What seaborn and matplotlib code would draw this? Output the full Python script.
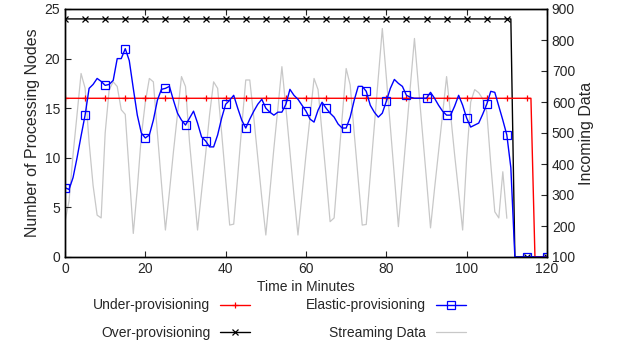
import matplotlib
matplotlib.use("Agg")
import matplotlib.pyplot as plt
import numpy as np
import pandas as pd
import seaborn as sns

# minutes 0..120, one sample per minute
minutes = list(range(121))

under_nodes = [16] * 117 + [0] * 4
over_nodes = [24] * 112 + [0] * 9

elastic_nodes = [
    7.0, 6.8, 8.0, 10.0, 12.2, 14.3, 17.0, 17.4, 18.0, 17.7,
    17.3, 17.4, 17.8, 20.0, 20.0, 21.0, 19.8, 17.0, 14.3, 12.5,
    12.0, 12.3, 13.8, 15.8, 16.9, 17.0, 17.2, 15.8, 14.5, 13.8,
    13.3, 14.0, 14.7, 13.5, 12.1, 11.7, 11.1, 11.1, 12.3, 14.0,
    15.4, 15.8, 16.3, 15.0, 13.8, 13.0, 13.9, 14.7, 15.4, 15.9,
    15.0, 14.6, 14.3, 14.6, 14.6, 15.4, 16.9, 16.3, 15.9, 15.3,
    14.7, 13.9, 13.6, 14.8, 15.6, 15.0, 14.5, 14.1, 13.4, 13.0,
    13.0, 14.1, 15.8, 17.2, 17.2, 16.7, 15.3, 14.6, 14.1, 14.5,
    15.7, 17.0, 17.9, 17.5, 17.2, 16.3, 16.1, 16.0, 16.0, 16.0,
    16.0, 16.6, 16.0, 15.3, 14.7, 14.3, 14.3, 15.2, 16.3, 15.3,
    14.0, 13.1, 13.3, 13.5, 14.4, 15.4, 16.7, 16.6, 15.2, 13.8,
    12.3, 9.0, 0, 0, 0, 0, 0, 0, 0, 0, 0,
]

# incoming data, minutes 0..110
stream_minutes = list(range(111))
stream_data = [
    214, 280, 430, 560, 692, 645, 470, 330, 235, 226,
    500, 640, 665, 650, 575, 560, 370, 176, 320, 490,
    600, 676, 665, 500, 340, 187, 310, 440, 560, 682,
    650, 470, 330, 187, 310, 430, 560, 665, 644, 500,
    350, 203, 206, 360, 520, 671, 671, 550, 420, 290,
    171, 310, 450, 580, 714, 580, 440, 300, 171, 300,
    430, 550, 676, 640, 500, 360, 214, 226, 390, 550,
    708, 655, 500, 350, 203, 205, 363, 521, 679, 837,
    680, 520, 360, 198, 350, 500, 655, 805, 650, 500,
    350, 194, 320, 440, 560, 682, 560, 430, 310, 187,
    420, 600, 640, 630, 610, 569, 400, 246, 226, 375,
    225,
]

sns.set_style("ticks")
plt.rcParams["font.family"] = ["Liberation Sans", "DejaVu Sans"]
plt.rcParams["font.size"] = 10

nodes = pd.DataFrame({
    "minute": minutes,
    "under": under_nodes,
    "over": over_nodes,
    "elastic": elastic_nodes,
})
stream = pd.DataFrame({"minute": stream_minutes, "data": stream_data})

fig = plt.figure(figsize=(6.2, 3.47), dpi=100)
ax = fig.add_axes([65 / 620, 1 - 257 / 347, 482 / 620, 248 / 347])
ax2 = ax.twinx()

sns.lineplot(data=stream, x="minute", y="data", ax=ax2, color="#c8c8c8",
             lw=0.9, label="Streaming Data", legend=False)

# seaborn paints marker edges white by default, so set them explicitly
sns.lineplot(data=nodes, x="minute", y="over", ax=ax, color="black", lw=1,
             marker="x", markersize=4.2, markeredgecolor="black",
             markeredgewidth=0.9, markevery=5,
             label="Over-provisioning", legend=False)
sns.lineplot(data=nodes, x="minute", y="under", ax=ax, color="#ff0000", lw=1,
             marker="+", markersize=5, markeredgecolor="#ff0000",
             markeredgewidth=0.9, markevery=5,
             label="Under-provisioning", legend=False)
sns.lineplot(data=nodes, x="minute", y="elastic", ax=ax, color="#0000ff", lw=1,
             marker="s", markersize=5.2, markerfacecolor="none",
             markeredgecolor="#0000ff", markeredgewidth=0.9, markevery=5,
             label="Elastic-provisioning", legend=False)

# keep the node lines above the streaming curve
ax.set_zorder(ax2.get_zorder() + 1)
ax.patch.set_visible(False)

ax.set_xlim(0, 120)
ax.set_ylim(0, 25)
ax2.set_ylim(100, 900)
ax.set_xticks(range(0, 121, 20))
ax.set_yticks(range(0, 26, 5))
ax2.set_yticks(range(100, 901, 100))

ax.set_xlabel("Time in Minutes", labelpad=3)
ax.set_ylabel("Number of Processing Nodes", labelpad=3, fontsize=11.5)
ax2.set_ylabel("Incoming Data", labelpad=3, fontsize=11.5)

ax.tick_params(direction="in", length=4, top=True, width=0.8)
ax2.tick_params(direction="in", length=4, width=0.8)
for a in (ax, ax2):
    for s in a.spines.values():
        s.set_visible(True)
        s.set_linewidth(1)
        s.set_color("black")

# legend below the axes: text before the sample, two columns
handles = {}
for a in (ax, ax2):
    for h, l in zip(*a.get_legend_handles_labels()):
        handles[l] = h
order = ["Under-provisioning", "Over-provisioning",
         "Elastic-provisioning", "Streaming Data"]
fig.legend([handles[k] for k in order], order, ncol=2, markerfirst=False,
           frameon=False, loc="upper left", bbox_to_anchor=(0.15, 0.14),
           handlelength=2.2, handletextpad=0.7, columnspacing=4.0,
           labelspacing=0.95, borderaxespad=0, borderpad=0, fontsize=10)

fig.savefig("out.png", dpi=100)
